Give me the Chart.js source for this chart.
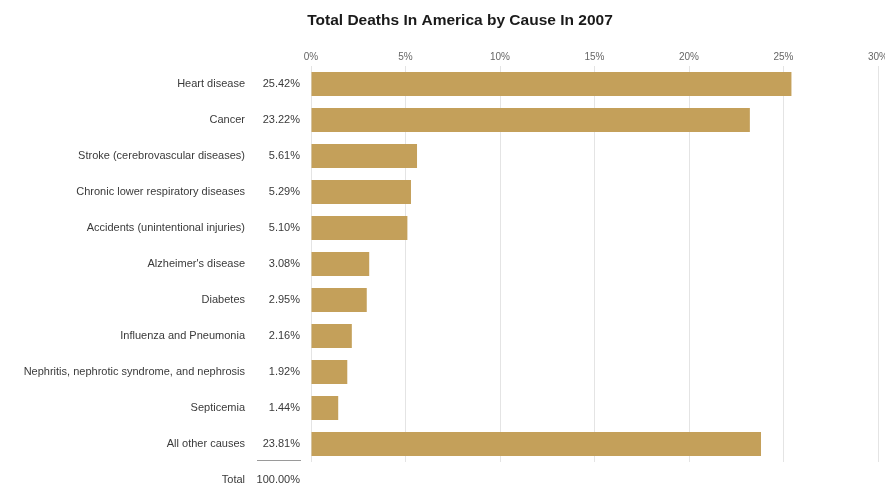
<!DOCTYPE html>
<html>
<head>
<meta charset="utf-8">
<script src="https://cdn.jsdelivr.net/npm/chart.js@4/dist/chart.umd.min.js"></script>
<style>
  html, body { margin: 0; padding: 0; background: #ffffff; }
  #wrap { width: 885px; height: 487px; }
</style>
</head>
<body>
<div id="wrap"><canvas id="c" width="885" height="487"></canvas></div>
<script>
const chartTitle = "Total Deaths In America by Cause In 2007";
const causes = [
  "Heart disease",
  "Cancer",
  "Stroke (cerebrovascular diseases)",
  "Chronic lower respiratory diseases",
  "Accidents (unintentional injuries)",
  "Alzheimer's disease",
  "Diabetes",
  "Influenza and Pneumonia",
  "Nephritis, nephrotic syndrome, and nephrosis",
  "Septicemia",
  "All other causes"
];
const sharePercent = [25.42, 23.22, 5.61, 5.29, 5.10, 3.08, 2.95, 2.16, 1.92, 1.44, 23.81];
const totalLabel = "Total";
const totalPercent = 100.00;
const xTicks = [0, 5, 10, 15, 20, 25, 30];

const fmt = v => v.toFixed(2) + "%";

// Shift the title block so the title is centred where the original has it
const titleShift = {
  id: 'titleShift',
  afterLayout(chart) {
    if (chart.titleBlock) {
      chart.titleBlock.left = 42;
      chart.titleBlock.right = 878;
    }
  }
};

const tablePlugin = {
  id: 'tablePlugin',
  afterDraw(chart) {
    const ctx = chart.ctx;
    const y = chart.scales.y;
    ctx.save();
    ctx.font = "11px 'Liberation Sans', Arial, sans-serif";
    ctx.fillStyle = "#3a3a3a";
    ctx.textAlign = "right";
    ctx.textBaseline = "middle";
    const xPct = 300;
    sharePercent.forEach((v, i) => {
      ctx.fillText(fmt(v), xPct, y.getPixelForValue(i));
    });
    const step = y.getPixelForValue(1) - y.getPixelForValue(0);
    const lastY = y.getPixelForValue(causes.length - 1);
    const totalY = lastY + step;
    // underline under the last value
    ctx.strokeStyle = "#9a9a9a";
    ctx.lineWidth = 1;
    const uy = Math.round(lastY + step * 0.44) + 0.5;
    ctx.beginPath();
    ctx.moveTo(257, uy);
    ctx.lineTo(301, uy);
    ctx.stroke();
    ctx.fillText(totalLabel, 245, totalY);
    ctx.fillText(fmt(totalPercent), xPct, totalY);
    ctx.restore();
  }
};

new Chart(document.getElementById('c'), {
  type: 'bar',
  data: {
    labels: causes,
    datasets: [{
      data: sharePercent,
      backgroundColor: '#C4A05A',
      borderWidth: 0,
      categoryPercentage: 1.0,
      barPercentage: 0.667
    }]
  },
  plugins: [titleShift, tablePlugin],
  options: {
    indexAxis: 'y',
    responsive: false,
    animation: false,
    devicePixelRatio: 1,
    layout: { padding: { left: 0, right: 7, top: 0, bottom: 25 } },
    plugins: {
      legend: { display: false },
      tooltip: { enabled: false },
      title: {
        display: true,
        text: chartTitle,
        color: '#1a1a1a',
        font: { family: "'Liberation Sans', Arial, sans-serif", size: 15.5, weight: 'bold' },
        padding: { top: 11, bottom: 3 }
      }
    },
    scales: {
      x: {
        position: 'top',
        min: 0,
        max: 30,
        afterBuildTicks(scale) { scale.ticks = xTicks.map(v => ({ value: v })); },
        afterFit(scale) { scale.height = 66 - (11 + 3 + 15.5 * 1.2); scale.paddingLeft = 0; scale.paddingRight = 0; },
        ticks: {
          padding: 3,
          color: '#666666',
          font: { family: "'Liberation Sans', Arial, sans-serif", size: 10 },
          callback: v => v + '%'
        },
        grid: { color: '#e4e4e4', lineWidth: 1, drawTicks: false },
        border: { display: false }
      },
      y: {
        afterFit(scale) { scale.width = 311; scale.paddingTop = 0; scale.paddingBottom = 0; },
        ticks: {
          padding: 66,
          color: '#3a3a3a',
          font: { family: "'Liberation Sans', Arial, sans-serif", size: 11 }
        },
        grid: { display: false, drawTicks: false },
        border: { display: false }
      }
    }
  }
});
</script>
</body>
</html>
